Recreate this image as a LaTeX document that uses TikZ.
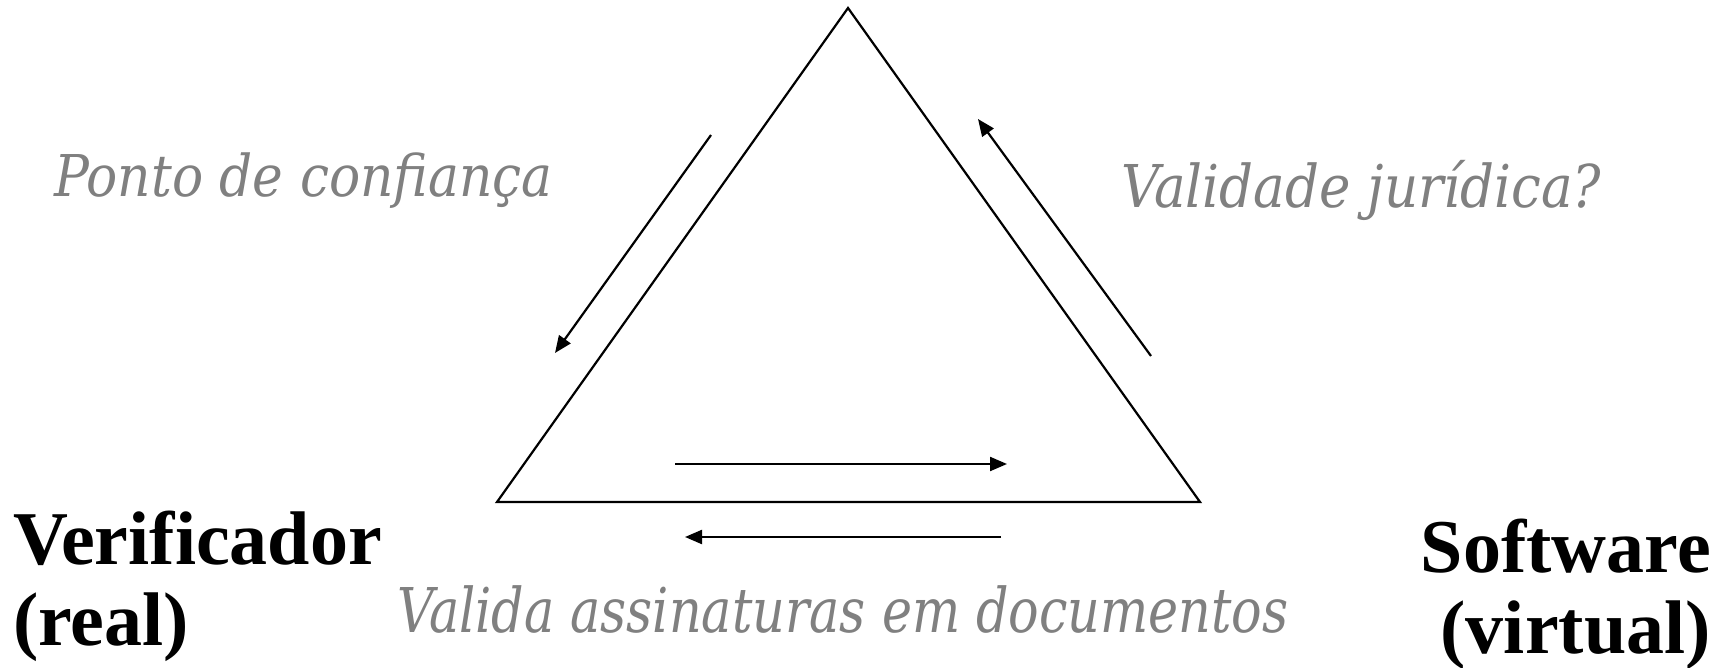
\documentclass[tikz,border=0pt]{standalone}
\usepackage{fontspec}
\setmainfont{Liberation Serif}
\newfontfamily\notefont{DejaVu Serif Condensed}
\newfontfamily\narrownotefont{DejaVu Serif Condensed}[FakeStretch=0.915]
\usetikzlibrary{arrows.meta}

\definecolor{notegray}{HTML}{808080}
\tikzstyle{side} = [line width=2.2pt, line join=miter]
\tikzstyle{arrow} = [line width=2.2pt, -{Triangle[length=17pt,width=14pt]}]
\tikzstyle{actor} = [inner sep=0pt, font=\fontsize{76}{81}\selectfont\bfseries]
\tikzstyle{note} = [inner sep=0pt, text=notegray]

\begin{document}
\begin{tikzpicture}[x=1pt, y=-1pt]
  \useasboundingbox (0,0) rectangle (1729,668);

  % triangle
  \coordinate (Top) at (848,8);
  \coordinate (Left) at (497,502);
  \coordinate (Right) at (1200,502);
  \draw [side] (Top) -- (Left) -- (Right) -- cycle;

  % arrows along the sides
  \coordinate (Trust Start) at (711,135);
  \coordinate (Trust End) at (555,353);
  \coordinate (Legal Start) at (1151,356);
  \coordinate (Legal End) at (978,119);
  \coordinate (Inner Start) at (675,464);
  \coordinate (Inner End) at (1007,464);
  \coordinate (Outer Start) at (1001,537);
  \coordinate (Outer End) at (685,537);
  \draw [arrow] (Trust Start) -- (Trust End);
  \draw [arrow] (Legal Start) -- (Legal End);
  \draw [arrow] (Inner Start) -- (Inner End);
  \draw [arrow] (Outer Start) -- (Outer End);

  % labels
  \node (Verificador) [actor, anchor=base west, align=left] at (13,645) {Verificador\\(real)};
  \node (Software) [actor, anchor=base east, align=right] at (1711,653) {Software\\(virtual)};
  \node (Ponto) [note, font=\fontsize{57.6}{64}\selectfont\notefont\itshape, anchor=base west] at (54,197) {Ponto de confiança};
  \node (Validade) [note, font=\fontsize{59}{65}\selectfont\notefont\itshape, anchor=base west] at (1121,208) {Validade jurídica?};
  \node (Valida) [note, font=\fontsize{61.7}{68}\selectfont\narrownotefont\itshape, anchor=base] at (843,632) {Valida assinaturas em documentos};
\end{tikzpicture}
\end{document}
